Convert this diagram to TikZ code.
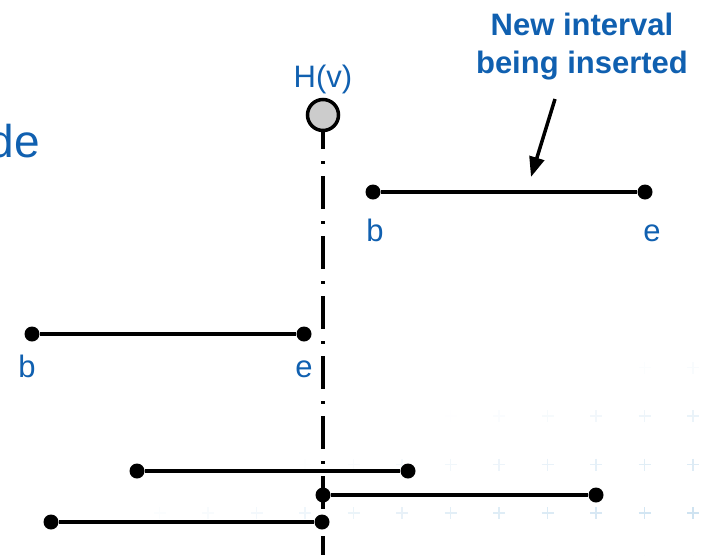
\documentclass[tikz,border=0pt]{standalone}
\usepackage{fontspec}
\setmainfont{Liberation Sans}
\usepackage{xcolor}
\usepackage{tikz}
\usetikzlibrary{arrows.meta,positioning}

\definecolor{slideblue}{RGB}{16,96,176}
\definecolor{plusblue}{RGB}{160,200,228}

\begin{document}
\begin{tikzpicture}[x=1pt,y=-1pt,
          endpt/.style={circle,fill=black,inner sep=0pt,minimum size=15pt},
          seg/.style={line width=3.5pt},
          lbl/.style={text=slideblue,font=\fontsize{31}{37}\selectfont,anchor=base,inner sep=0pt},
          hnode/.style={draw,circle,line width=3.5pt,fill=gray!40,minimum size=31pt,inner sep=0pt},
          axis/.style={line width=3.3pt,dash pattern=on 33pt off 12pt on 3pt off 12pt,dash phase=16pt},
          plusmark/.style={plusblue,line width=1.4pt}]
        \useasboundingbox (0,0) rectangle (701,555);
        % faint background crosses
        \foreach \i in {0,...,11}
          \foreach \j in {-1,...,3}{
            \pgfmathsetmacro\op{max(0,0.5-0.042*\i-0.14*\j)}
            \draw[plusmark,opacity=\op] ({693-48.5*\i-6},{513-48.5*\j}) -- ++(12,0)
                  ({693-48.5*\i},{513-48.5*\j-6}) -- ++(0,12);
          }
        % title fragment
        \node[text=slideblue,font=\fontsize{46}{55}\selectfont,anchor=base east,inner sep=0pt] (title) at (40,157) {de};
        % H(v) and its axis
        \node[hnode] (hv) at (323,115) {};
        \node[lbl] (hvlbl) at (323,87) {H(v)};
        \coordinate (axend) at (323,555);
        \draw[axis] (hv) -- (axend);
        % new interval
        \node[endpt] (b1) at (373,192) {};
        \node[endpt] (e1) at (645,192) {};
        \draw[seg] (b1) -- (e1);
        \node[lbl] (b1lbl) at (375,241) {b};
        \node[lbl] (e1lbl) at (652,241) {e};
        % stored intervals
        \node[endpt] (b2) at (32,334) {};
        \node[endpt] (e2) at (304,334) {};
        \draw[seg] (b2) -- (e2);
        \node[lbl] (b2lbl) at (27,377) {b};
        \node[lbl] (e2lbl) at (304,377) {e};
        \node[endpt] (b3) at (137,471) {};
        \node[endpt] (e3) at (408,471) {};
        \draw[seg] (b3) -- (e3);
        \node[endpt] (b4) at (323,495) {};
        \node[endpt] (e4) at (596,495) {};
        \draw[seg] (b4) -- (e4);
        \node[endpt] (b5) at (51,522) {};
        \node[endpt] (e5) at (322,522) {};
        \draw[seg] (b5) -- (e5);
        % caption and arrow
        \node[text=slideblue,font=\fontsize{31}{38}\bfseries,align=center] (caption) at (582,47) {New interval\\being inserted};
        \coordinate (arrtail) at (555,99);
        \coordinate (arrhead) at (531,177);
        \draw[line width=3.5pt,-{Triangle[length=20pt,width=15pt]}] (arrtail) -- (arrhead);
      \end{tikzpicture}
\end{document}
